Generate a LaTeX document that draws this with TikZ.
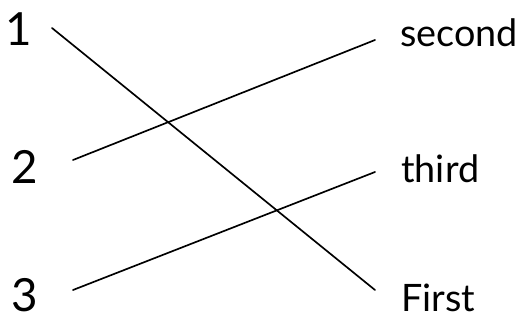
\documentclass[tikz,border=0pt]{standalone}
\usepackage{fontspec}
\setmainfont{Lato}
\usetikzlibrary{positioning,calc}
\tikzset{
  num label/.style={font=\fontsize{26}{26}\selectfont,inner sep=0pt,anchor=base},
  word label/.style={font=\fontsize{21.5}{21.5}\selectfont,inner sep=0pt,anchor=base west},
  match line/.style={line width=0.95pt,black,line cap=round}
}
\begin{document}
\begin{tikzpicture}[x=0.02cm,y=-0.02cm]
  \useasboundingbox (0,0) rectangle (520,320);
  % Left column: numbers.
  \node[num label] (one) at (19,46) {1};
  \node[num label] (two) at (25,184) {2};
  \node[num label] (three) at (25,311) {3};
  % Right column: words.
  \node[word label] (second) at (400,47) {second};
  \node[word label] (third) at (401,183) {third};
  \node[word label] (first) at (401,311) {First};
  % Matching lines.
  \draw[match line] ($(one.base)+(33,-18)$) -- ($(first.base west)+(-26,-21)$);
  \draw[match line] ($(two.base)+(48,-24)$) -- ($(second.base west)+(-25,-7)$);
  \draw[match line] ($(three.base)+(48,-21)$) -- ($(third.base west)+(-26,-11)$);
\end{tikzpicture}
\end{document}
